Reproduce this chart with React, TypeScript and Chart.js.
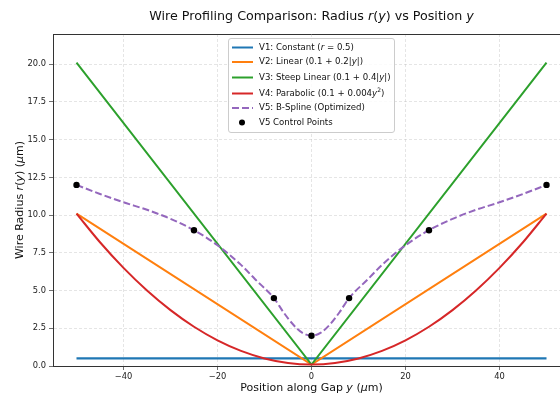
import React, { useEffect, useRef } from "react";
import { Chart, registerables } from "chart.js";

Chart.register(...registerables);

// ---------- data ----------
const lineX = [-50, 0, 50];
const v1X = [-50, 50];
const v1Y = [0.5, 0.5];
const v2Y = [10.1, 0.1, 10.1];
const v3Y = [20.1, 0.1, 20.1];
const v4X = [-50, -45, -40, -35, -30, -25, -20, -15, -10, -5, 0, 5, 10, 15, 20, 25, 30, 35, 40, 45, 50];
const v4Y = [10.1, 8.2, 6.5, 5.0, 3.7, 2.6, 1.7, 1.0, 0.5, 0.2, 0.1, 0.2, 0.5, 1.0, 1.7, 2.6, 3.7, 5.0, 6.5, 8.2, 10.1];
const v5X = [-50, -45, -40, -35, -30, -25, -20, -15, -12, -8, -6, -4, -2, 0, 2, 4, 6, 8, 12, 15, 20, 25, 30, 35, 40, 45, 50];
const v5Y = [12.0, 11.4, 10.85, 10.35, 9.75, 9.0, 8.0, 6.7, 5.75, 4.5, 3.58, 2.78, 2.21, 2.0, 2.21, 2.78, 3.58, 4.5, 5.75, 6.7, 8.0, 9.0, 9.75, 10.35, 10.85, 11.4, 12.0];
const ctrlX = [-50, -25, -8, 0, 8, 25, 50];
const ctrlY = [12, 9, 4.5, 2, 4.5, 9, 12];
const xTicks = [-40, -20, 0, 20, 40];
const yTicks = [0, 2.5, 5, 7.5, 10, 12.5, 15, 17.5, 20];

const C1 = "#1f77b4";
const C2 = "#ff7f0e";
const C3 = "#2ca02c";
const C4 = "#d62728";
const C5 = "#9467bd";

type Seg = { t: string; it?: boolean; sup?: boolean };
const FAM = '"DejaVu Sans", sans-serif';

function segFont(s: Seg, size: number) {
  return `${s.it ? "italic " : ""}${s.sup ? size * 0.7 : size}px ${FAM}`;
}

function drawRich(ctx: CanvasRenderingContext2D, segs: Seg[], x: number, y: number, size: number, align: "center" | "left", color: string) {
  ctx.save();
  ctx.fillStyle = color;
  ctx.textBaseline = "middle";
  ctx.textAlign = "left";
  const widths = segs.map((s) => {
    ctx.font = segFont(s, size);
    return ctx.measureText(s.t).width;
  });
  const total = widths.reduce((a, b) => a + b, 0);
  let cx = align === "center" ? x - total / 2 : x;
  segs.forEach((s, i) => {
    ctx.font = segFont(s, size);
    ctx.fillText(s.t, cx, s.sup ? y - size * 0.38 : y);
    cx += widths[i];
  });
  ctx.restore();
}

const titleSegs: Seg[] = [
  { t: "Wire Profiling Comparison: Radius " },
  { t: "r", it: true },
  { t: "(" },
  { t: "y", it: true },
  { t: ") vs Position " },
  { t: "y", it: true },
];
const xLabelSegs: Seg[] = [{ t: "Position along Gap " }, { t: "y", it: true }, { t: " (" }, { t: "\u03bc", it: true }, { t: "m)" }];
const yLabelSegs: Seg[] = [
  { t: "Wire Radius " },
  { t: "r", it: true },
  { t: "(" },
  { t: "y", it: true },
  { t: ") (" },
  { t: "\u03bc", it: true },
  { t: "m)" },
];
const legendItems: { segs: Seg[]; color: string; kind: "line" | "dash" | "dot" }[] = [
  { segs: [{ t: "V1: Constant (" }, { t: "r", it: true }, { t: " = 0.5)" }], color: C1, kind: "line" },
  { segs: [{ t: "V2: Linear (0.1 + 0.2|" }, { t: "y", it: true }, { t: "|)" }], color: C2, kind: "line" },
  { segs: [{ t: "V3: Steep Linear (0.1 + 0.4|" }, { t: "y", it: true }, { t: "|)" }], color: C3, kind: "line" },
  { segs: [{ t: "V4: Parabolic (0.1 + 0.004" }, { t: "y", it: true }, { t: "2", sup: true }, { t: ")" }], color: C4, kind: "line" },
  { segs: [{ t: "V5: B-Spline (Optimized)" }], color: C5, kind: "dash" },
  { segs: [{ t: "V5 Control Points" }], color: "#000", kind: "dot" },
];

const decor = {
  id: "decor",
  afterDraw(chart: any) {
    const ctx: CanvasRenderingContext2D = chart.ctx;
    const a = chart.chartArea;
    // top spine
    ctx.save();
    ctx.strokeStyle = "#333";
    ctx.lineWidth = 1;
    ctx.beginPath();
    ctx.moveTo(a.left, a.top + 0.5);
    ctx.lineTo(a.right, a.top + 0.5);
    ctx.stroke();
    ctx.restore();
    const cx = (a.left + a.right) / 2;
    drawRich(ctx, titleSegs, cx, 17, 12.7, "center", "#111");
    drawRich(ctx, xLabelSegs, cx, 388, 11, "center", "#111");
    ctx.save();
    ctx.translate(20, 200);
    ctx.rotate(-Math.PI / 2);
    drawRich(ctx, yLabelSegs, 0, 0, 11, "center", "#111");
    ctx.restore();
    // legend
    const lx = 228, ly = 38, lw = 166, lh = 94;
    ctx.save();
    ctx.fillStyle = "rgba(255,255,255,0.85)";
    ctx.strokeStyle = "#cccccc";
    ctx.lineWidth = 1;
    ctx.beginPath();
    (ctx as any).roundRect(lx + 0.5, ly + 0.5, lw, lh, 2.5);
    ctx.fill();
    ctx.stroke();
    const rows = [47.5, 62, 77.5, 93.5, 108, 122.5];
    legendItems.forEach((it, i) => {
      const y = rows[i];
      if (it.kind === "dot") {
        ctx.fillStyle = it.color;
        ctx.beginPath();
        ctx.arc(242, y, 3, 0, Math.PI * 2);
        ctx.fill();
      } else {
        ctx.strokeStyle = it.color;
        ctx.lineWidth = 2;
        ctx.setLineDash(it.kind === "dash" ? [7, 3] : []);
        ctx.beginPath();
        ctx.moveTo(232, y);
        ctx.lineTo(253, y);
        ctx.stroke();
        ctx.setLineDash([]);
      }
      drawRich(ctx, it.segs, 259, y, 8.6, "left", "#111");
    });
    ctx.restore();
  },
};

function pts(xs: number[], ys: number[]) {
  return xs.map((x, i) => ({ x, y: ys[i] }));
}

export default function App() {
  const ref = useRef<HTMLCanvasElement>(null);
  useEffect(() => {
    if (!ref.current) return;
    const minus = (v: number) => (v < 0 ? "\u2212" + Math.abs(v) : String(v));
    const chart = new Chart(ref.current, {
      type: "scatter",
      data: {
        datasets: [
          { label: "V1", data: pts(v1X, v1Y), showLine: true, borderColor: C1, borderWidth: 2.2, pointRadius: 0, order: 5 },
          { label: "V2", data: pts(lineX, v2Y), showLine: true, borderColor: C2, borderWidth: 2, pointRadius: 0, order: 4 },
          { label: "V3", data: pts(lineX, v3Y), showLine: true, borderColor: C3, borderWidth: 2, pointRadius: 0, order: 3 },
          { label: "V4", data: pts(v4X, v4Y), showLine: true, borderColor: C4, borderWidth: 2, pointRadius: 0, cubicInterpolationMode: "monotone", order: 2 },
          { label: "V5", data: pts(v5X, v5Y), showLine: true, borderColor: C5, borderWidth: 2, borderDash: [7, 3], pointRadius: 0, cubicInterpolationMode: "monotone", order: 1 },
          { label: "V5 Control Points", data: pts(ctrlX, ctrlY), showLine: false, backgroundColor: "#000", borderColor: "#000", pointRadius: 3.2, borderWidth: 0, order: 0 },
        ] as any,
      },
      options: {
        animation: false,
        responsive: false,
        devicePixelRatio: 1,
        layout: { padding: { top: 34, right: 10, left: 0, bottom: 0 } },
        plugins: { legend: { display: false }, tooltip: { enabled: false }, title: { display: false } },
        scales: {
          x: {
            type: "linear",
            min: -55,
            max: 55,
            afterBuildTicks: (s: any) => { s.ticks = xTicks.map((v) => ({ value: v })); },
            afterFit: (s: any) => { s.height = 30; },
            ticks: { callback: (v: any) => minus(Number(v)), color: "#222", font: { family: FAM, size: 8.3 }, padding: 2, maxRotation: 0 },
            grid: { color: "rgba(180,180,180,0.5)", lineWidth: 0.7, tickColor: "#333", tickLength: 4 },
            border: { display: true, color: "#333", width: 1, dash: [3, 2] } as any,
          },
          y: {
            type: "linear",
            min: 0,
            max: 22,
            afterBuildTicks: (s: any) => { s.ticks = yTicks.map((v) => ({ value: v })); },
            afterFit: (s: any) => { s.width = 53; },
            ticks: { callback: (v: any) => Number(v).toFixed(1), color: "#222", font: { family: FAM, size: 8.3 }, padding: 3 },
            grid: { color: "rgba(180,180,180,0.5)", lineWidth: 0.7, tickColor: "#333", tickLength: 4 },
            border: { display: true, color: "#333", width: 1, dash: [3, 2] } as any,
          },
        },
      },
      plugins: [decor],
    });
    return () => chart.destroy();
  }, []);
  return (
    <div style={{ position: "fixed", left: 0, top: 0, width: 560, height: 396, overflow: "hidden", background: "#fff" }}>
      <canvas ref={ref} width={580} height={396} style={{ display: "block" }} />
    </div>
  );
}
